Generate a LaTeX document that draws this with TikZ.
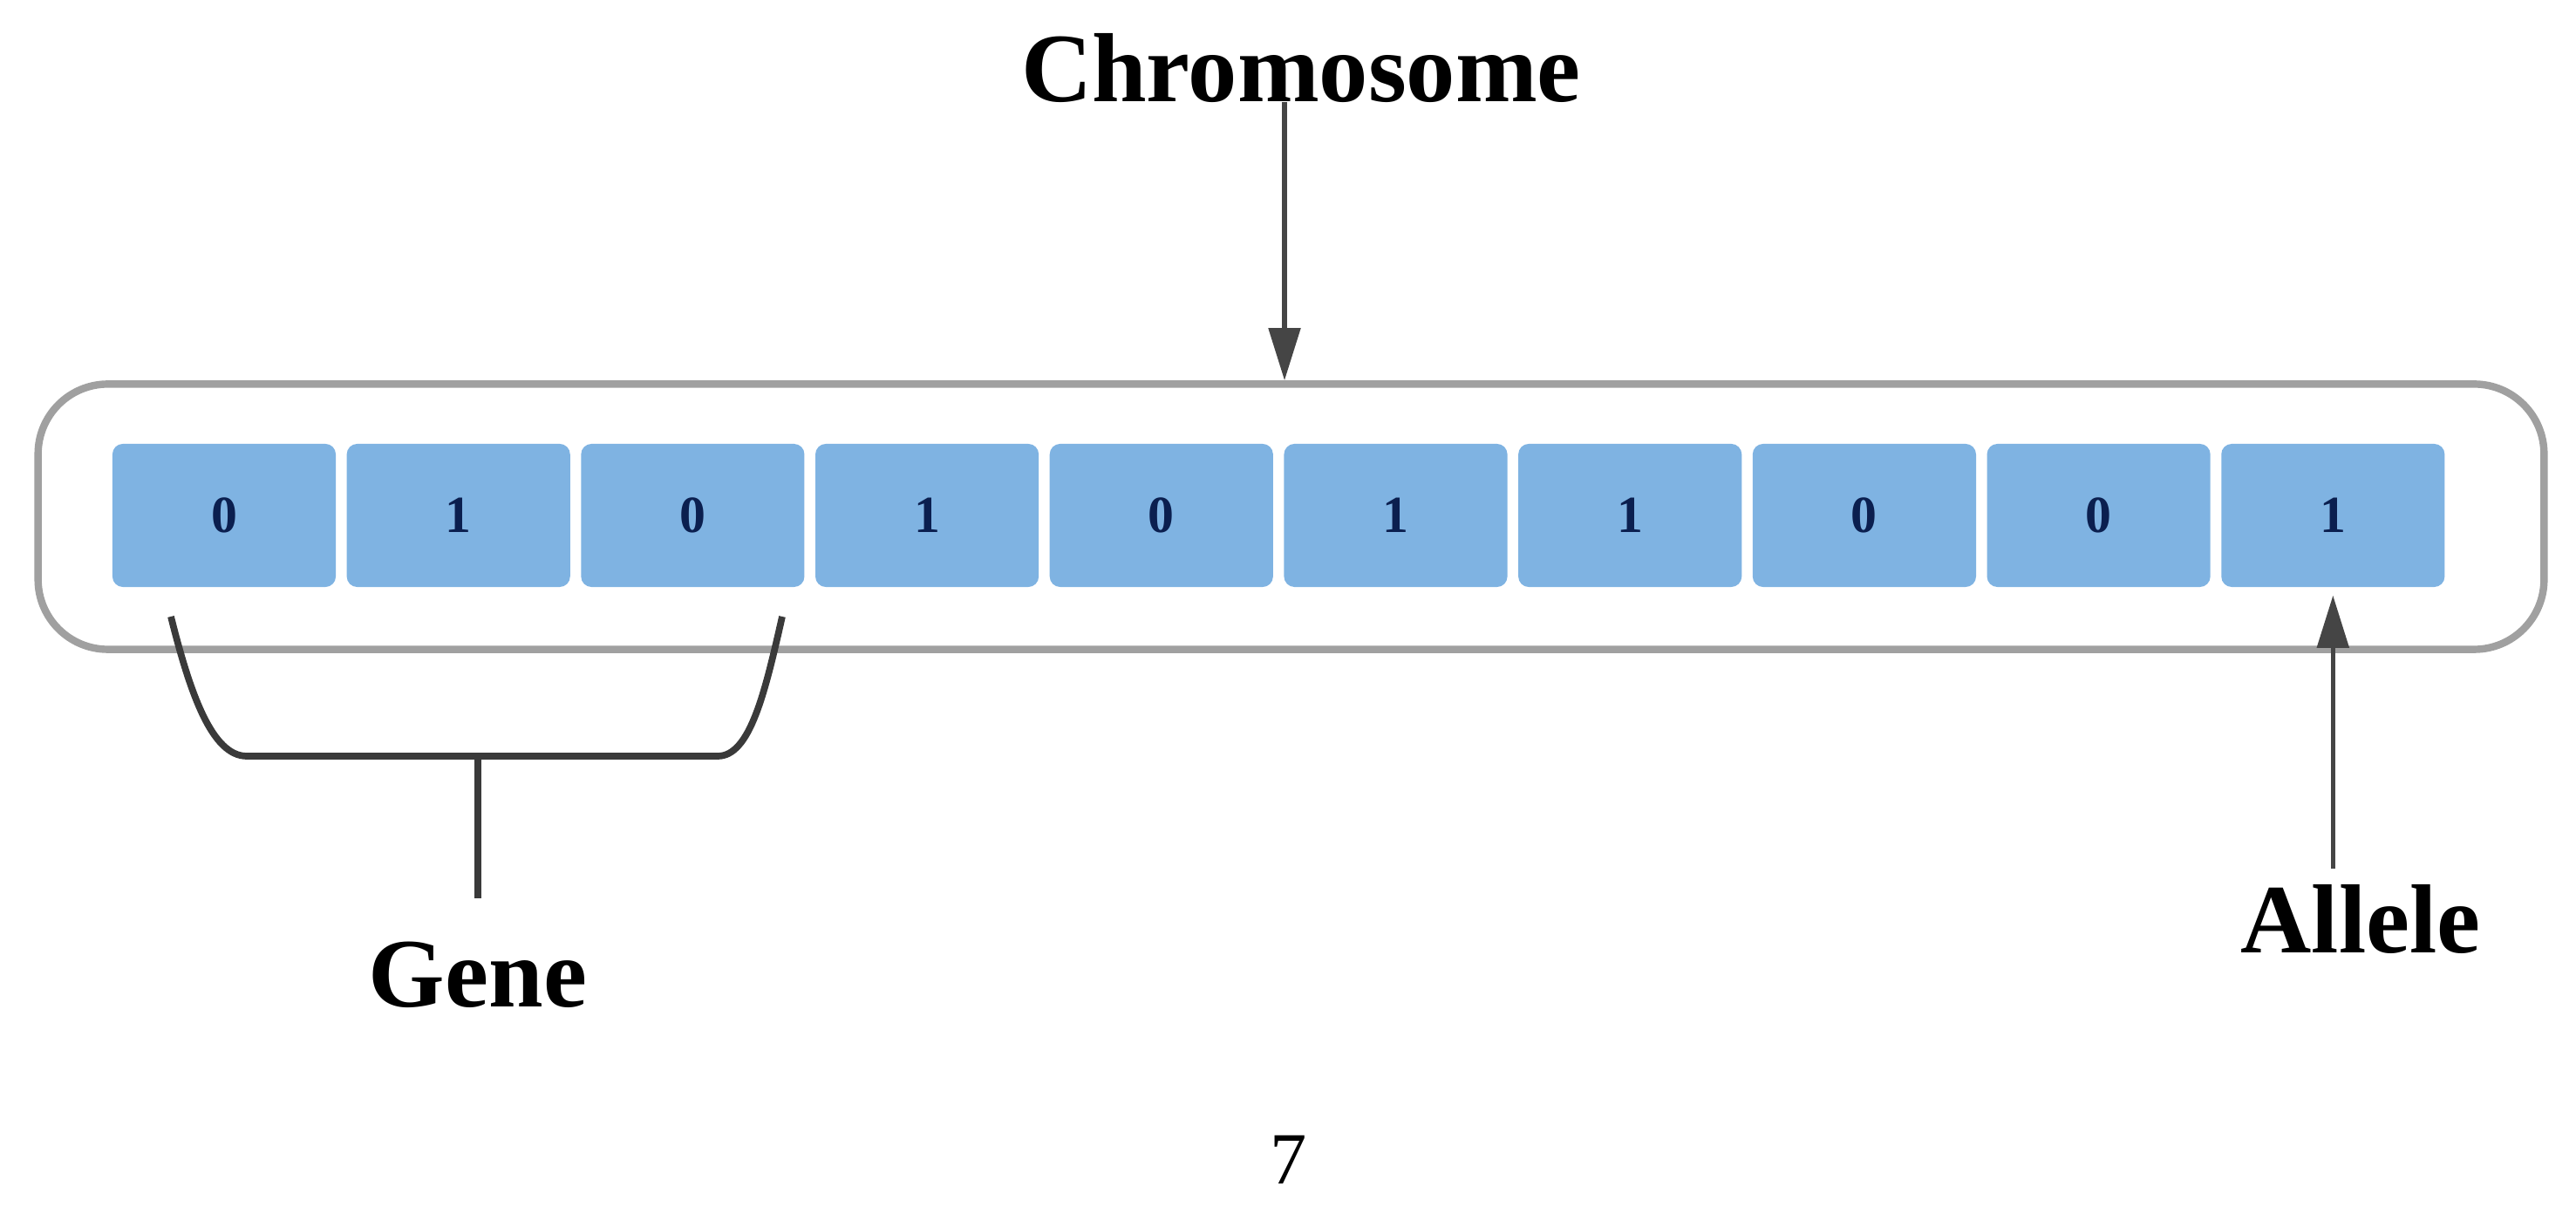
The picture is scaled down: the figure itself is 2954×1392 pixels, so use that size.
\documentclass[tikz,border=0pt]{standalone}
\usepackage{fontspec}
\setmainfont{Liberation Serif}
\usetikzlibrary{arrows.meta}
\definecolor{cellblue}{HTML}{7FB3E2}
\definecolor{digitnavy}{HTML}{0B1F4F}
\definecolor{framegray}{HTML}{A0A0A0}
\definecolor{arrowgray}{HTML}{454545}
\definecolor{bracegray}{HTML}{3A3A3A}
\begin{document}
\begin{tikzpicture}[x=0.01cm,y=-0.01cm,
 cell/.style={fill=cellblue, rounded corners=0.12cm, minimum width=2.56cm, minimum height=1.64cm, inner sep=0pt, text=digitnavy, font=\fontsize{17}{20}\selectfont\bfseries},
 biglabel/.style={font=\fontsize{32}{38}\selectfont\bfseries, anchor=base, inner sep=0pt},
 pointer/.style={draw=arrowgray, line width=1.5pt, -{Triangle[length=0.6cm,width=0.36cm]}},
 bracestyle/.style={draw=bracegray, line width=2.2pt}]
\useasboundingbox (0,0) rectangle (2954,1392);
% outer chromosome frame
\node[draw=framegray, line width=2.4pt, rounded corners=0.8cm, minimum width=28.72cm, minimum height=3.04cm, inner sep=0pt] (chrom) at (1480.5,592.5) {};
% genes / cells
\foreach \v [count=\i from 0] in {0,1,0,1,0,1,1,0,0,1} {
  \node[cell] (c\i) at (257+268.7*\i, 591) {\v};
}
% Chromosome label and arrow
\node[biglabel] (chromlabel) at (1492,117) {Chromosome};
\coordinate (cstart) at (1473,117);
\draw[pointer] (cstart) -- (chrom.north -| cstart);
% Allele label and arrow
\node[biglabel] (allele) at (2707,1093) {Allele};
\draw[pointer] ([yshift=0.18cm]allele.north -| c9.south) -- ([yshift=-0.09cm]c9.south);
% Gene bracket
\coordinate (gL) at (196,707);
\coordinate (gR) at (897,707);
\coordinate (gBL) at (283,867);
\coordinate (gBR) at (823,867);
\coordinate (gMid) at (548,867);
\node[biglabel] (gene) at (548,1155) {Gene};
\draw[bracestyle, line join=round] (gL) .. controls (218,795) and (243,867) .. (gBL) -- (gBR) .. controls (860,867) and (877,795) .. (gR);
\draw[bracestyle] (gMid) -- ([yshift=0.5cm]gene.north);
% page number
\node[font=\fontsize{24}{28}\selectfont, anchor=base, inner sep=0pt] (pagenum) at (1478,1357) {7};
\end{tikzpicture}
\end{document}
